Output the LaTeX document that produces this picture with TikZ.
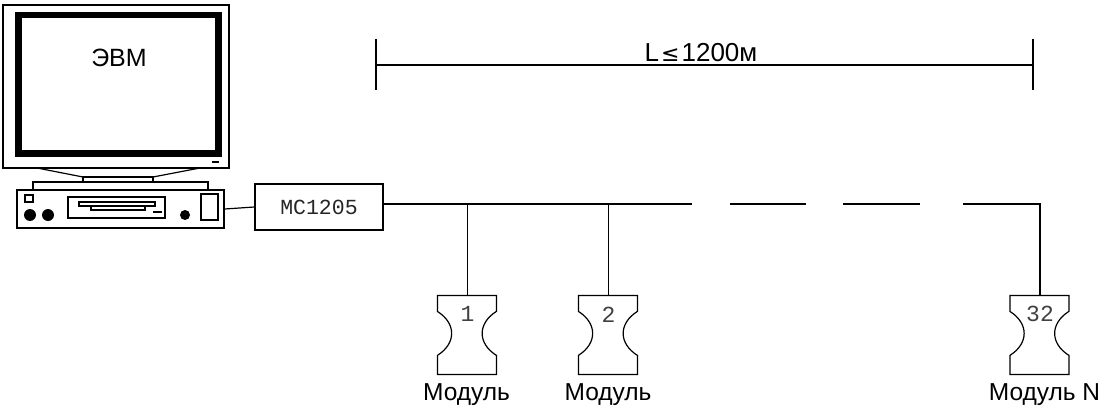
\documentclass[tikz,border=0pt]{standalone}
\usepackage{fontspec}
\setmainfont{Liberation Sans}
\newfontfamily\monofont{Liberation Mono}
\newfontfamily\symfont{DejaVu Sans}
\usetikzlibrary{calc}
\begin{document}
\begin{tikzpicture}[x=1pt,y=-1pt,line width=1.2pt,
  lbl/.style={font=\fontsize{24.5}{27}\selectfont,inner sep=0pt},
  mono/.style={font=\monofont\fontsize{21.5}{24}\selectfont,inner sep=0pt,text=black!85},
  modbox/.style={minimum width=59pt,minimum height=79pt,inner sep=0pt,draw=none},
  modnum/.style={font=\monofont\fontsize{23}{25}\selectfont,text=black!75,inner sep=0pt}]
\useasboundingbox (0,0) rectangle (1103,409);

% ---- monitor ----
\draw (3,5) rectangle (229,168);
\draw[line width=6.5pt] (18.5,15) rectangle (218.5,153.5);
\draw[line width=2pt] (212,162) -- (219,162);
\node[lbl,font=\fontsize{25}{27}\selectfont,anchor=base] (ebm) at (119,67) {ЭВМ};
% stand
\draw (37,168) -- (83,177) -- (153,177) -- (200,168);
\draw (83,177) rectangle (153,182);
\draw (33,182) rectangle (208,190);
% system unit
\node[draw,minimum width=207pt,minimum height=38pt,inner sep=0pt] (pc) at (120.5,209) {};
\draw (25,195) rectangle (33,202);
\fill (30,215) circle (6);
\fill (48,215) circle (6);
\fill (185,215) circle (5);
\draw (68,197) rectangle (165,218);
\draw (79,202) rectangle (155,206);
\draw (91,206) rectangle (145,210);
\draw[line width=2.5pt] (153,212) -- (162,212);
\draw (201,194) rectangle (218,220);

% ---- interface ----
\node[draw,mono,minimum width=128pt,minimum height=46pt] (mc) at (319,207) {MC1205};
\draw (pc.east) -- (mc.west);

% ---- modules ----
\node[modbox] (m1) at (467.5,335.5) {};
\node[modbox] (m2) at (608.5,335.5) {};
\node[modbox] (m3) at (1040,335.5) {};
\foreach \m in {m1,m2,m3}{
  \begin{scope}[shift={(\m.north west)}]
    \draw (0,0) -- (59,0) -- (59,16) .. controls (40,28) and (40,48) .. (59,60)
      -- (59,79) -- (0,79) -- (0,60) .. controls (19,48) and (19,28) .. (0,16) -- cycle;
  \end{scope}
}
\node[modnum] (n1) at ($(m1.north)+(0,19)$) {1};
\node[modnum] (n2) at ($(m2.north)+(0,19)$) {2};
\node[modnum] (n3) at ($(m3.north)+(0,19)$) {32};
\node[lbl,anchor=base] (l1) at ($(m1.south)+(-1,25)$) {Модуль};
\node[lbl,anchor=base] (l2) at ($(m2.south)+(-0.5,25)$) {Модуль};
\node[lbl,anchor=base] (l3) at ($(m3.south)+(4.5,25)$) {Модуль N};

% ---- bus ----
\coordinate (b0) at (692,204);
\coordinate (s1a) at (730,204);
\coordinate (s1b) at (806,204);
\coordinate (s2a) at (843,204);
\coordinate (s2b) at (920,204);
\coordinate (s3a) at (963,204);
\coordinate (b3) at (m3.north |- s3a);
\draw (mc.east |- b0) -- (b0);
\draw (s1a) -- (s1b);
\draw (s2a) -- (s2b);
\draw (s3a) -- (b3) -- (m3.north);
\draw (m1.north) -- (m1.north |- b0);
\draw (m2.north) -- (m2.north |- b0);

% ---- length dimension ----
\coordinate (dl) at (376,65);
\coordinate (dr) at (1033,65);
\draw (dl) -- (dr);
\draw ($(dl)+(0,-26)$) -- ($(dl)+(0,25)$);
\draw ($(dr)+(0,-26)$) -- ($(dr)+(0,25)$);
\node[lbl,font=\fontsize{26}{28}\selectfont,anchor=base] (len) at (701,62) {L\kern2pt{\symfont\fontsize{22}{24}\selectfont ≤}\kern2pt1200м};
\end{tikzpicture}
\end{document}
